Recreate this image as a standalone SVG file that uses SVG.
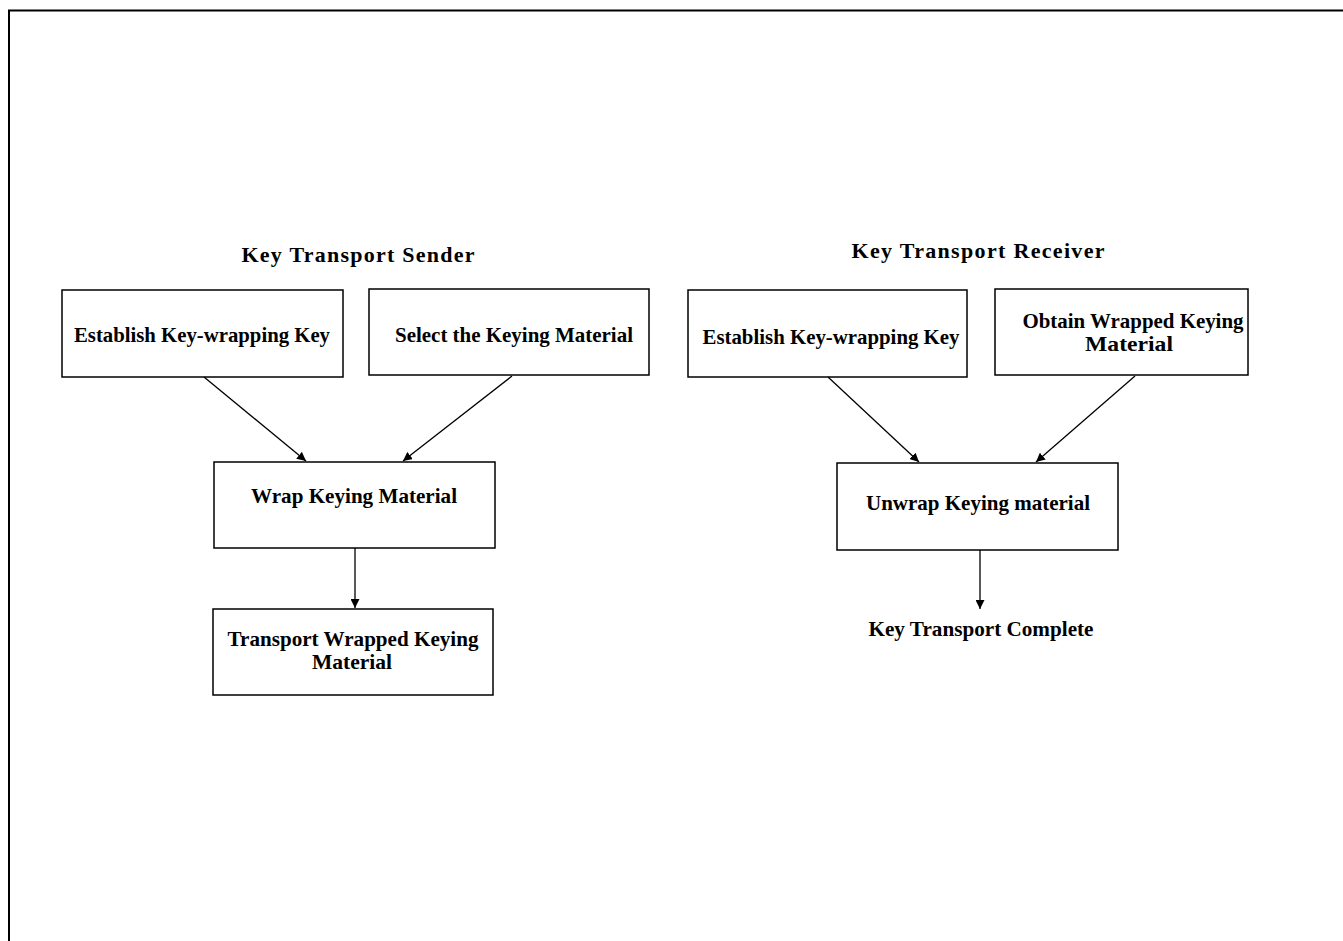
<svg xmlns="http://www.w3.org/2000/svg" width="1343" height="941" viewBox="0 0 1343 941">
  <style>
    .box { fill: #ffffff; stroke: #000000; stroke-width: 1.5; }
    .lbl { font-family: "Liberation Serif", "Times New Roman", serif; font-weight: bold; font-size: 21px; fill: #000000; text-anchor: middle; }
    .ttl { font-family: "Liberation Serif", "Times New Roman", serif; font-weight: bold; font-size: 22px; fill: #000000; text-anchor: middle; }
    .edge { stroke: #000000; stroke-width: 1.3; fill: none; marker-end: url(#arrow); }
  </style>
  <defs>
    <marker id="arrow" viewBox="0 0 10 10" refX="10" refY="5" markerWidth="9" markerHeight="9" markerUnits="userSpaceOnUse" orient="auto">
      <path d="M0,0 L10,5 L0,10 z" fill="#000000"/>
    </marker>
  </defs>

  <rect x="0" y="0" width="1343" height="941" fill="#ffffff"/>
  <!-- outer frame -->
  <rect x="9" y="10.5" width="1345" height="940" fill="none" stroke="#000000" stroke-width="2"/>

  <!-- section titles -->
  <text class="ttl" x="358" y="262" textLength="233" lengthAdjust="spacing">Key Transport Sender</text>
  <text class="ttl" x="978" y="258" textLength="253" lengthAdjust="spacing">Key Transport Receiver</text>

  <!-- sender side -->
  <g id="s-establish">
    <rect class="box" x="62" y="290" width="281" height="87"/>
    <text class="lbl" x="202" y="342" textLength="256" lengthAdjust="spacingAndGlyphs">Establish Key-wrapping Key</text>
  </g>
  <g id="s-select">
    <rect class="box" x="369" y="289" width="280" height="86"/>
    <text class="lbl" x="514" y="342" textLength="238" lengthAdjust="spacingAndGlyphs">Select the Keying Material</text>
  </g>
  <g id="s-wrap">
    <rect class="box" x="214" y="462" width="281" height="86"/>
    <text class="lbl" x="354" y="503" textLength="206" lengthAdjust="spacingAndGlyphs">Wrap Keying Material</text>
  </g>
  <g id="s-transport">
    <rect class="box" x="213" y="609" width="280" height="86"/>
    <text class="lbl" x="353" y="646" textLength="251" lengthAdjust="spacingAndGlyphs">Transport Wrapped Keying</text>
    <text class="lbl" x="352" y="669" textLength="80" lengthAdjust="spacingAndGlyphs">Material</text>
  </g>

  <!-- receiver side -->
  <g id="r-establish">
    <rect class="box" x="688" y="290" width="279" height="87"/>
    <text class="lbl" x="831" y="344" textLength="257" lengthAdjust="spacingAndGlyphs">Establish Key-wrapping Key</text>
  </g>
  <g id="r-obtain">
    <rect class="box" x="995" y="289" width="253" height="86"/>
    <text class="lbl" x="1133" y="328" textLength="221" lengthAdjust="spacingAndGlyphs">Obtain Wrapped Keying</text>
    <text class="lbl" x="1129" y="351" textLength="88" lengthAdjust="spacingAndGlyphs">Material</text>
  </g>
  <g id="r-unwrap">
    <rect class="box" x="837" y="463" width="281" height="87"/>
    <text class="lbl" x="978" y="510" textLength="224" lengthAdjust="spacingAndGlyphs">Unwrap Keying material</text>
  </g>
  <g id="r-complete">
    <text class="lbl" x="981" y="636" textLength="225" lengthAdjust="spacingAndGlyphs">Key Transport Complete</text>
  </g>

  <!-- connectors -->
  <g id="connectors">
    <line class="edge" x1="204" y1="377" x2="306" y2="461"/>
    <line class="edge" x1="512" y1="376" x2="403" y2="461"/>
    <line class="edge" x1="355" y1="548" x2="355" y2="608"/>
    <line class="edge" x1="828" y1="377" x2="919" y2="462"/>
    <line class="edge" x1="1135" y1="376" x2="1036" y2="462"/>
    <line class="edge" x1="980" y1="550" x2="980" y2="609"/>
  </g>
</svg>
